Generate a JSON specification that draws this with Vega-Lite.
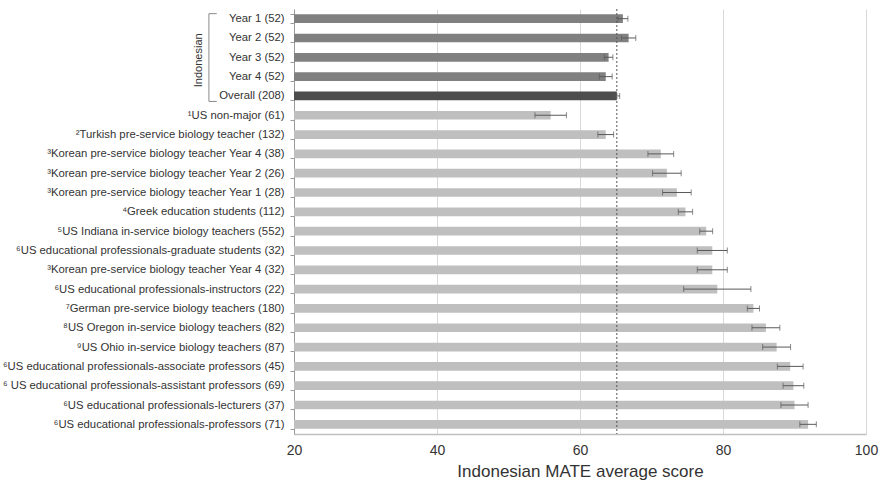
{
  "$schema": "https://vega.github.io/schema/vega-lite/v6.json",
  "autosize": {"type": "none"},
  "width": 572,
  "height": 425,
  "padding": {"left": 294, "top": 9, "right": 17, "bottom": 53},
  "background": "white",
  "config": {"font": "Liberation Sans", "view": {"stroke": null}},
  "data": {"values": [
    {"label": "Year 1 (52)", "score": 66.0, "se": 0.7, "group": "year"},
    {"label": "Year 2 (52)", "score": 66.8, "se": 1.0, "group": "year"},
    {"label": "Year 3 (52)", "score": 64.0, "se": 0.6, "group": "year"},
    {"label": "Year 4 (52)", "score": 63.6, "se": 0.9, "group": "year"},
    {"label": "Overall (208)", "score": 65.15, "se": 0.4, "group": "overall"},
    {"label": "¹US non-major (61)", "score": 55.9, "se": 2.2, "group": "other"},
    {"label": "²Turkish pre-service biology teacher (132)", "score": 63.6, "se": 1.1, "group": "other"},
    {"label": "³Korean pre-service biology teacher Year 4 (38)", "score": 71.3, "se": 1.8, "group": "other"},
    {"label": "³Korean pre-service biology teacher Year 2 (26)", "score": 72.15, "se": 2.0, "group": "other"},
    {"label": "³Korean pre-service biology teacher Year 1 (28)", "score": 73.55, "se": 2.0, "group": "other"},
    {"label": "⁴Greek education students (112)", "score": 74.75, "se": 1.0, "group": "other"},
    {"label": "⁵US Indiana in-service biology teachers (552)", "score": 77.65, "se": 0.9, "group": "other"},
    {"label": "⁶US educational professionals-graduate students (32)", "score": 78.5, "se": 2.1, "group": "other"},
    {"label": "³Korean pre-service biology teacher Year 4 (32)", "score": 78.5, "se": 2.1, "group": "other"},
    {"label": "⁶US educational professionals-instructors (22)", "score": 79.2, "se": 4.7, "group": "other"},
    {"label": "⁷German pre-service biology teachers (180)", "score": 84.25, "se": 0.85, "group": "other"},
    {"label": "⁸US Oregon in-service biology teachers (82)", "score": 86.0, "se": 1.95, "group": "other"},
    {"label": "⁹US Ohio in-service biology teachers (87)", "score": 87.5, "se": 1.95, "group": "other"},
    {"label": "⁶US educational professionals-associate professors (45)", "score": 89.4, "se": 1.8, "group": "other"},
    {"label": "⁶ US educational professionals-assistant professors (69)", "score": 89.85, "se": 1.45, "group": "other"},
    {"label": "⁶US educational professionals-lecturers (37)", "score": 90.0, "se": 1.9, "group": "other"},
    {"label": "⁶US educational professionals-professors (71)", "score": 91.9, "se": 1.15, "group": "other"}
  ]},
  "layer": [
    {
      "mark": {"type": "bar"},
      "encoding": {
        "y": {
          "field": "label", "type": "nominal", "sort": null,
          "scale": {
            "domain": ["Year 1 (52)", "Year 2 (52)", "Year 3 (52)", "Year 4 (52)", "Overall (208)", "¹US non-major (61)", "²Turkish pre-service biology teacher (132)", "³Korean pre-service biology teacher Year 4 (38)", "³Korean pre-service biology teacher Year 2 (26)", "³Korean pre-service biology teacher Year 1 (28)", "⁴Greek education students (112)", "⁵US Indiana in-service biology teachers (552)", "⁶US educational professionals-graduate students (32)", "³Korean pre-service biology teacher Year 4 (32)", "⁶US educational professionals-instructors (22)", "⁷German pre-service biology teachers (180)", "⁸US Oregon in-service biology teachers (82)", "⁹US Ohio in-service biology teachers (87)", "⁶US educational professionals-associate professors (45)", "⁶ US educational professionals-assistant professors (69)", "⁶US educational professionals-lecturers (37)", "⁶US educational professionals-professors (71)"],
            "paddingInner": 0.55, "paddingOuter": 0.275
          },
          "axis": {
            "title": null, "domainColor": "#9a9a9a", "tickColor": "#9a9a9a", "tickSize": 4,
            "tickBand": "extent", "labelFontSize": 11.3, "labelColor": "#333333",
            "labelPadding": 6, "labelLimit": 400, "grid": false
          }
        },
        "x": {
          "field": "score", "type": "quantitative", "title": "Indonesian MATE average score",
          "scale": {"domain": [20, 100], "zero": false, "nice": false},
          "axis": {
            "titleFontSize": 17, "titleFontWeight": "normal",
            "titleColor": "#333333", "titlePadding": 6, "values": [20, 40, 60, 80, 100],
            "labelFontSize": 14, "labelColor": "#333333", "ticks": false, "labelPadding": 9,
            "labelFlush": false, "domainColor": "#bfbfbf", "domainWidth": 1.5, "gridColor": "#d9d9d9", "grid": true
          }
        },
        "x2": {"datum": 20},
        "color": {
          "field": "group", "type": "nominal",
          "scale": {"domain": ["year", "overall", "other"], "range": ["#808080", "#4d4d4d", "#bfbfbf"]},
          "legend": null
        }
      }
    },
    {
      "mark": {"type": "errorbar", "ticks": {"size": 6, "color": "#595959"}, "rule": {"color": "#595959", "strokeWidth": 1}},
      "encoding": {
        "y": {"field": "label", "type": "nominal", "sort": null},
        "x": {"field": "score", "type": "quantitative", "title": "Indonesian MATE average score"},
        "xError": {"field": "se"}
      }
    },
    {
      "transform": [{"filter": "datum.group === 'overall'"}],
      "mark": {"type": "rule", "strokeDash": [2, 2], "color": "#555555", "strokeWidth": 1, "y2Offset": 18},
      "encoding": {"x": {"field": "score", "type": "quantitative", "title": "Indonesian MATE average score"}}
    },
    {
      "transform": [{"filter": "datum.label === 'Year 1 (52)'"}],
      "mark": {"type": "rule", "color": "#8a8a8a", "strokeWidth": 1, "yOffset": -5, "y2Offset": 5.5},
      "encoding": {
        "y": {"field": "label", "type": "nominal", "sort": null},
        "y2": {"datum": "Overall (208)"},
        "x": {"datum": 8.1, "type": "quantitative", "title": "Indonesian MATE average score"}
      }
    },
    {
      "transform": [{"filter": "datum.label === 'Year 1 (52)'"}],
      "mark": {"type": "rule", "color": "#8a8a8a", "strokeWidth": 1, "yOffset": -5},
      "encoding": {
        "y": {"field": "label", "type": "nominal", "sort": null},
        "x": {"datum": 8.1, "type": "quantitative", "title": "Indonesian MATE average score"},
        "x2": {"datum": 9.2}
      }
    },
    {
      "transform": [{"filter": "datum.label === 'Overall (208)'"}],
      "mark": {"type": "rule", "color": "#8a8a8a", "strokeWidth": 1, "yOffset": 5.5},
      "encoding": {
        "y": {"field": "label", "type": "nominal", "sort": null},
        "x": {"datum": 8.1, "type": "quantitative", "title": "Indonesian MATE average score"},
        "x2": {"datum": 9.2}
      }
    },
    {
      "transform": [{"filter": "datum.label === 'Year 3 (52)'"}],
      "mark": {"type": "text", "angle": 270, "align": "center", "baseline": "middle", "fontSize": 11, "color": "#333333", "yOffset": 3},
      "encoding": {
        "y": {"field": "label", "type": "nominal", "sort": null},
        "x": {"datum": 6.7, "type": "quantitative", "title": "Indonesian MATE average score"},
        "text": {"value": "Indonesian"}
      }
    }
  ]
}
